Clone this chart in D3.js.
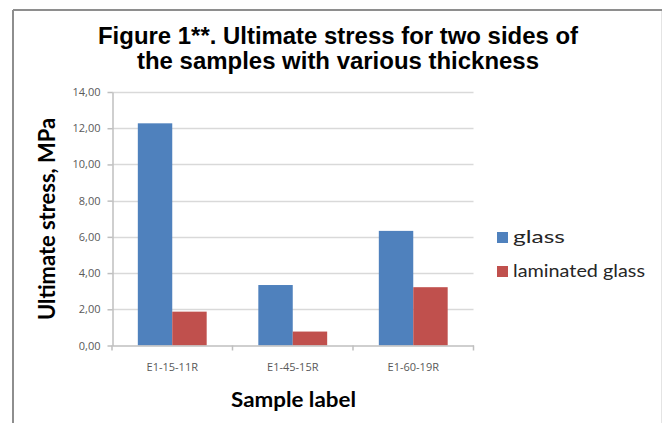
<!DOCTYPE html>
<html>
<head>
<meta charset="utf-8">
<script src="https://cdn.jsdelivr.net/npm/d3@7"></script>
<style>
  html, body { margin: 0; padding: 0; background: #ffffff; }
  svg { display: block; }
</style>
</head>
<body>
<svg id="chart" width="667" height="423"></svg>
<script>
// Sample labels and the two measured series (MPa)
const categories = ["E1-15-11R", "E1-45-15R", "E1-60-19R"];
const seriesNames = ["glass", "laminated glass"];
const glassValues = [12.27, 3.34, 6.33];
const laminatedValues = [1.87, 0.77, 3.22];
const yTicks = [0, 2, 4, 6, 8, 10, 12, 14];
const titleLines = ["Figure 1**. Ultimate stress for two sides of",
                    "the samples with various thickness"];
const yAxisTitle = "Ultimate stress, MPa";
const xAxisTitle = "Sample label";
const colors = ["#4f81bd", "#c0504d"];

const rows = categories.map((c, i) => ({
  category: c,
  values: [glassValues[i], laminatedValues[i]]
}));

const svg = d3.select("#chart");

// chart frame (top and left edges darker, right edge faint)
svg.append("line").attr("x1", 13).attr("y1", 10).attr("x2", 662).attr("y2", 10)
  .attr("stroke", "#8e8e8e").attr("stroke-width", 2);
svg.append("line").attr("x1", 13).attr("y1", 10).attr("x2", 13).attr("y2", 423)
  .attr("stroke", "#8e8e8e").attr("stroke-width", 2);
svg.append("line").attr("x1", 661.5).attr("y1", 11).attr("x2", 661.5).attr("y2", 423)
  .attr("stroke", "#e4e4e4").attr("stroke-width", 1);

// scales
const plotLeft = 112, plotRight = 473.5, plotTop = 92, plotBottom = 345.5;
const x = d3.scaleBand().domain(categories).range([plotLeft, plotRight])
  .paddingInner(0).paddingOuter(0);
const xs = d3.scaleBand().domain(seriesNames).range([0, x.bandwidth()])
  .paddingInner(0).paddingOuter(0.75);
const y = d3.scaleLinear().domain([0, 14]).range([plotBottom, plotTop]);

// gridlines
svg.append("g")
  .selectAll("line")
  .data(yTicks.filter(t => t > 0))
  .join("line")
  .attr("x1", plotLeft).attr("x2", plotRight)
  .attr("y1", d => Math.round(y(d)) + 0.5).attr("y2", d => Math.round(y(d)) + 0.5)
  .attr("stroke", "#d9d9d9").attr("stroke-width", 1.5);

// y axis
const yAxis = svg.append("g")
  .attr("transform", `translate(${plotLeft + 0.5},0)`)
  .call(d3.axisLeft(y).tickValues(yTicks)
    .tickFormat(d => d3.format(".2f")(d).replace(".", ","))
    .tickSizeInner(5).tickSizeOuter(0).tickPadding(7));
yAxis.select(".domain").attr("stroke", "#bfbfbf").attr("stroke-width", 1.5);
yAxis.selectAll(".tick line").attr("stroke", "#bfbfbf").attr("stroke-width", 1.5);
yAxis.selectAll(".tick text")
  .attr("fill", "#595959")
  .style("font-family", "'Open Sans', 'DejaVu Sans', sans-serif")
  .style("font-size", "11px");

// bars
const groups = svg.append("g")
  .selectAll("g")
  .data(rows)
  .join("g")
  .attr("transform", d => `translate(${x(d.category)},0)`);
groups.selectAll("rect")
  .data(d => d.values.map((v, i) => ({ name: seriesNames[i], value: v, i })))
  .join("rect")
  .attr("x", d => xs(d.name))
  .attr("width", xs.bandwidth())
  .attr("y", d => y(d.value))
  .attr("height", d => y(0) - y(d.value))
  .attr("fill", d => colors[d.i]);

// x axis
const xAxis = svg.append("g")
  .attr("transform", `translate(0,${plotBottom})`)
  .call(d3.axisBottom(x).tickSize(0).tickPadding(18));
xAxis.select(".domain").attr("stroke", "#bfbfbf").attr("stroke-width", 1.5);
xAxis.selectAll(".tick text")
  .attr("fill", "#595959")
  .style("font-family", "'Open Sans', 'DejaVu Sans', sans-serif")
  .style("font-size", "11px");
// category boundary ticks
xAxis.append("g")
  .selectAll("line")
  .data(categories.map(c => x(c)).concat([plotRight]))
  .join("line")
  .attr("x1", d => d).attr("x2", d => d)
  .attr("y1", 0).attr("y2", 5)
  .attr("stroke", "#bfbfbf").attr("stroke-width", 1.5);

// title
const title = svg.append("text")
  .attr("text-anchor", "middle")
  .attr("fill", "#000")
  .style("font-family", "'Liberation Sans', Arial, sans-serif")
  .style("font-weight", "bold")
  .style("font-size", "23px");
const titleWidths = [480, 402];
titleLines.forEach((line, i) => {
  title.append("tspan")
    .attr("x", 338)
    .attr("y", 44 + i * 25)
    .attr("textLength", titleWidths[i])
    .attr("lengthAdjust", "spacingAndGlyphs")
    .text(line);
});

// axis titles
svg.append("text")
  .attr("transform", "translate(55,219) rotate(-90)")
  .attr("text-anchor", "middle")
  .attr("textLength", 202)
  .attr("lengthAdjust", "spacingAndGlyphs")
  .style("font-family", "Lato, 'Open Sans', sans-serif")
  .style("font-weight", "bold")
  .style("font-size", "22px")
  .attr("fill", "#000")
  .text(yAxisTitle);

svg.append("text")
  .attr("x", 293.5)
  .attr("y", 407)
  .attr("text-anchor", "middle")
  .attr("textLength", 125)
  .attr("lengthAdjust", "spacingAndGlyphs")
  .style("font-family", "Lato, 'Open Sans', sans-serif")
  .style("font-weight", "bold")
  .style("font-size", "21px")
  .attr("fill", "#000")
  .text(xAxisTitle);

// legend
const legend = svg.append("g").attr("transform", "translate(497,232)");
const legendWidths = [52, 132];
const items = legend.selectAll("g")
  .data(seriesNames)
  .join("g")
  .attr("transform", (d, i) => `translate(0,${i * 34})`);
items.append("rect")
  .attr("width", 11).attr("height", 11)
  .attr("fill", (d, i) => colors[i]);
items.append("text")
  .attr("x", 16).attr("y", 11)
  .attr("textLength", (d, i) => legendWidths[i])
  .attr("lengthAdjust", "spacingAndGlyphs")
  .style("font-family", "Lato, 'Open Sans', sans-serif")
  .style("font-size", "17px")
  .attr("fill", "#262626")
  .text(d => d);
</script>
</body>
</html>
